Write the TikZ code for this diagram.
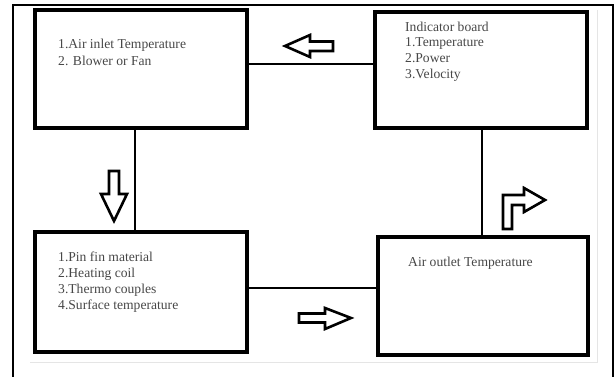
\documentclass[tikz,border=0pt]{standalone}
\usepackage{fontspec}
\setmainfont{Liberation Serif}
\begin{document}
\begin{tikzpicture}[x=1pt,y=-1pt,
  box/.style={draw,line width=3.2pt,rectangle,inner sep=0pt,outer sep=0pt,minimum width=#1},
  link/.style={line width=2.8pt},
  hollow/.style={draw,line width=2.6pt,line join=miter},
  txt/.style={anchor=north west,inner sep=0pt,align=left,text=black!72,font=\fontsize{13.6}{16}\selectfont},
  frame/.style={line width=2.2pt},
  faint/.style={draw=black!10,line width=1pt}]
\useasboundingbox (0,0) rectangle (615,377);
% outer frame
\draw[frame] (13,378) -- (13,5) -- (613,5) -- (613,378);
\draw[faint] (30,362) -- (597,362) -- (597,10);
% boxes
\node[box=212pt,minimum height=118pt] (b1) at (141,69) {};
\node[box=212pt,minimum height=116pt] (b2) at (481,70) {};
\node[box=212pt,minimum height=120pt] (b3) at (141,292) {};
\node[box=210pt,minimum height=118pt] (b4) at (483,296) {};
% texts
\node[txt,font=\fontsize{13.6}{17.5}\selectfont] (t1) at (58,38.5) {1.Air inlet Temperature\\2. Blower or Fan};
\node[txt,font=\fontsize{13.6}{15.7}\selectfont] (t2) at (405,21.5) {Indicator board\\1.Temperature\\2.Power\\3.Velocity};
\node[txt] (t3) at (58,251.5) {1.Pin fin material\\2.Heating coil\\3.Thermo couples\\4.Surface temperature};
\node[txt] (t4) at (408,256.5) {Air outlet Temperature};
% connectors
\draw[link] ([yshift=5pt]b1.east) -- ([yshift=5pt]b1.east -| b2.west);
\draw[link] ([xshift=-6pt]b1.south) -- ([xshift=-6pt]b1.south |- b3.north);
\draw[link] ([yshift=4pt]b3.east) -- ([yshift=4pt]b3.east -| b4.west);
\draw[link] ([xshift=1pt]b2.south) -- ([xshift=1pt]b2.south |- b4.north);
% hollow arrows
\draw[hollow] (285,46) -- (310,35) -- (310,41.5) -- (333,41.5) -- (333,51) -- (310,51) -- (310,57) -- cycle;
\draw[hollow] (114,221) -- (101,194) -- (109,194) -- (109,171) -- (119,171) -- (119,194) -- (127,194) -- cycle;
\draw[hollow] (351,318) -- (325,308) -- (325,313.5) -- (299,313.5) -- (299,322.5) -- (325,322.5) -- (325,329) -- cycle;
\draw[hollow] (503,229) -- (503,195) -- (524,195) -- (524,188) -- (545,200) -- (524,212) -- (524,205) -- (512,205) -- (512,229) -- cycle;
\end{tikzpicture}
\end{document}
